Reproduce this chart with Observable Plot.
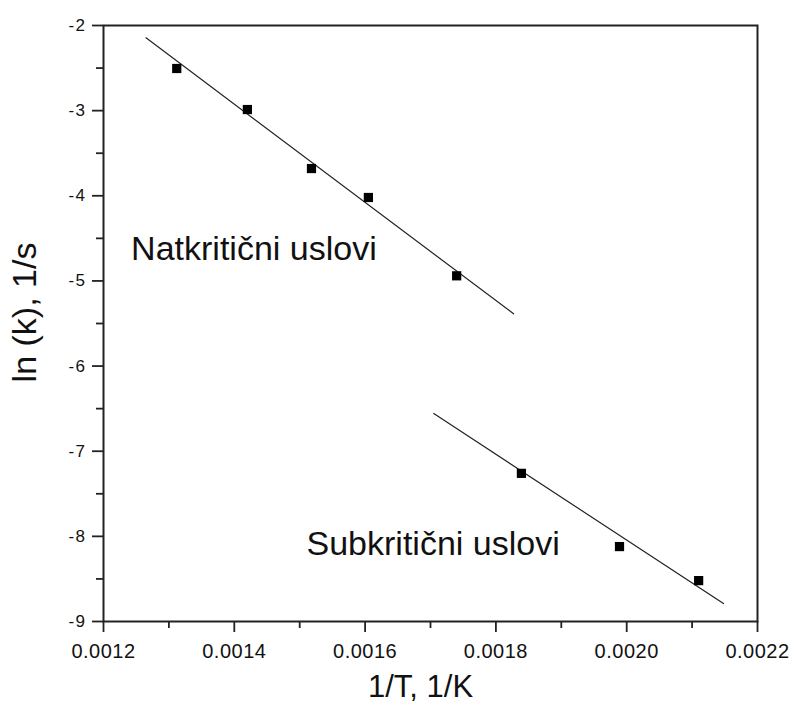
<!DOCTYPE html>
<html>
<head>
<meta charset="utf-8">
<script src="https://cdn.jsdelivr.net/npm/d3@7"></script>
<script src="https://cdn.jsdelivr.net/npm/@observablehq/plot@0.6"></script>
<style>
  body { margin: 0; background: #fff; }
  #chart svg { font-family: "Liberation Sans", Arial, sans-serif; }
  #chart g[aria-label="y-axis tick label"] text { letter-spacing: 1.5px; }
  #chart g[aria-label="x-axis tick label"] text { letter-spacing: 0.5px; }
</style>
</head>
<body>
<div id="chart"></div>
<script>
// Measured rate constants: ln(k) against 1/T
const supercriticalX = [0.001312, 0.001420, 0.001518, 0.001605, 0.001740];
const supercriticalY = [-2.505, -2.987, -3.680, -4.020, -4.940];
const subcriticalX = [0.001839, 0.001989, 0.002110];
const subcriticalY = [-7.26, -8.12, -8.52];

// End points of the fitted Arrhenius lines
const supercriticalFitX = [0.001265, 0.001827];
const supercriticalFitY = [-2.145, -5.386];
const subcriticalFitX = [0.001705, 0.002148];
const subcriticalFitY = [-6.557, -8.790];

// Region labels
const regionLabels = ["Natkritični uslovi", "Subkritični uslovi"];
const regionLabelX = [0.001430, 0.001704];
const regionLabelY = [-4.625, -8.090];

// Axis ticks
const xTicks = [0.0012, 0.0014, 0.0016, 0.0018, 0.0020, 0.0022];
const xMinorTicks = [0.0013, 0.0015, 0.0017, 0.0019, 0.0021];
const yTicks = [-9, -8, -7, -6, -5, -4, -3, -2];
const yMinorTicks = [-8.5, -7.5, -6.5, -5.5, -4.5, -3.5, -2.5];

const zip = (xs, ys) => xs.map((x, i) => ({x, y: ys[i]}));
const points = [...zip(supercriticalX, supercriticalY), ...zip(subcriticalX, subcriticalY)];
const supercriticalFit = zip(supercriticalFitX, supercriticalFitY);
const subcriticalFit = zip(subcriticalFitX, subcriticalFitY);
const labels = regionLabels.map((text, i) => ({text, x: regionLabelX[i], y: regionLabelY[i]}));

const ink = "#222";

const chart = Plot.plot({
  width: 790,
  height: 707,
  marginLeft: 103,
  marginRight: 33,
  marginTop: 25,
  marginBottom: 86,
  x: {domain: [0.0012, 0.0022]},
  y: {domain: [-9, -2]},
  marks: [
    Plot.frame({stroke: ink, strokeWidth: 2}),
    Plot.axisX(xTicks, {tickSize: 11, tickPadding: 11, strokeWidth: 1.8, stroke: ink,
      tickFormat: d3.format(".4f"), fontSize: 20, fill: "#111", label: null}),
    Plot.axisX(xMinorTicks, {tickSize: 7, strokeWidth: 1.8, stroke: ink, tickFormat: () => "", label: null}),
    Plot.axisY(yTicks, {tickSize: 11, tickPadding: 6, strokeWidth: 1.8, stroke: ink,
      tickFormat: d => String(d), fontSize: 17, fill: "#111", label: null}),
    Plot.axisY(yMinorTicks, {tickSize: 7, strokeWidth: 1.8, stroke: ink, tickFormat: () => "", label: null}),
    Plot.line(supercriticalFit, {x: "x", y: "y", stroke: ink, strokeWidth: 1.2}),
    Plot.line(subcriticalFit, {x: "x", y: "y", stroke: ink, strokeWidth: 1.2}),
    Plot.dot(points, {x: "x", y: "y", symbol: "square", r: 5.2, fill: "#000", stroke: "none"}),
    Plot.text(labels, {x: "x", y: "y", text: "text", fontSize: 34, fill: "#111", textAnchor: "middle"}),
    Plot.text(["1/T, 1/K"], {frameAnchor: "bottom", dy: 66, dx: -10, fontSize: 31, fill: "#111",
      textAnchor: "middle", lineAnchor: "middle"}),
    Plot.text(["ln (k), 1/s"], {frameAnchor: "left", dx: -78, dy: -11, rotate: -90, fontSize: 34, fill: "#111",
      textAnchor: "middle", lineAnchor: "middle"})
  ]
});

document.getElementById("chart").appendChild(chart);
</script>
</body>
</html>
